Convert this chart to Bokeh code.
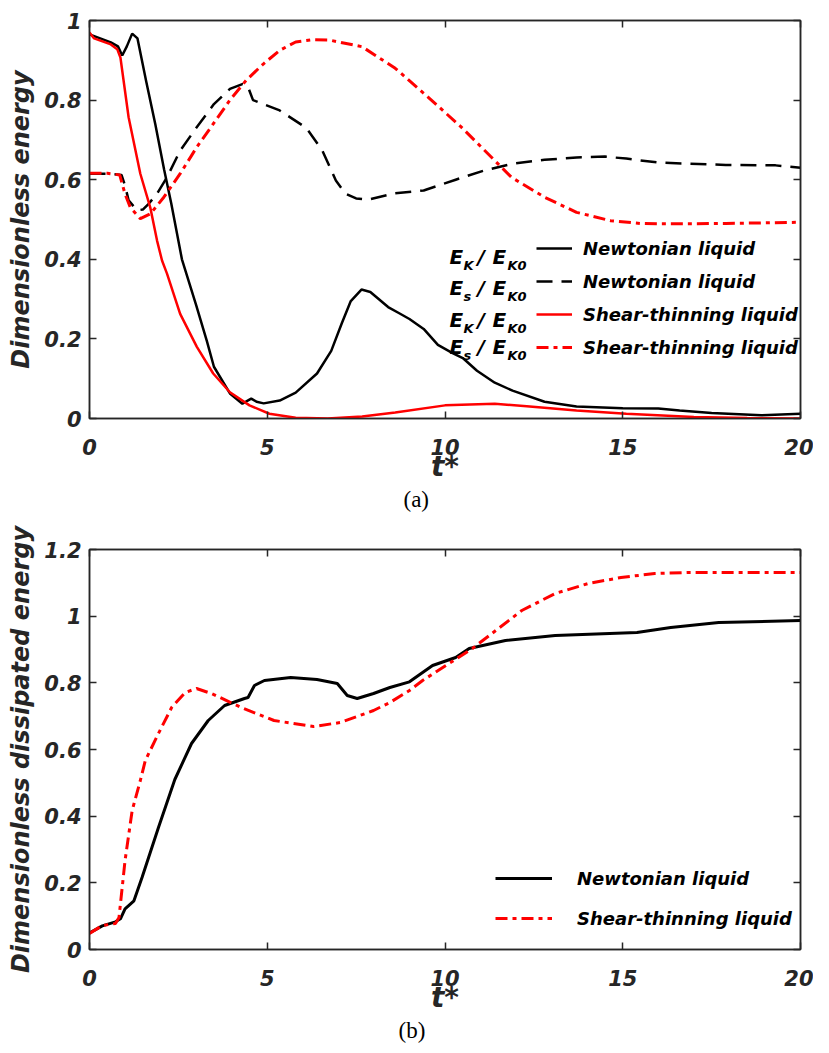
from bokeh.plotting import figure
from bokeh.models import Range1d, LinearAxis, FixedTicker, Label, Legend, LegendItem, Title
from bokeh.layouts import column
from bokeh.embed import file_html
from bokeh.resources import INLINE

# ---------------- data ----------------
# (a) E_K / E_K0, Newtonian
ta_ek_newt = [0, 0.3, 0.6, 0.8, 0.92, 1.05, 1.2, 1.35, 1.6, 1.85, 2.1, 2.3, 2.6, 3.0, 3.3, 3.5,
              3.95, 4.3, 4.45, 4.55, 4.7, 4.9, 5.35, 5.8, 6.4, 6.8, 7.1, 7.35, 7.65, 7.9, 8.4,
              8.7, 9.0, 9.4, 9.8, 10.2, 10.5, 10.9, 11.4, 11.9, 12.8, 13.7, 15.0, 16.0, 16.6,
              17.5, 18.9, 20.0]
va_ek_newt = [0.965, 0.955, 0.945, 0.935, 0.912, 0.935, 0.967, 0.955, 0.845, 0.74, 0.625, 0.54,
              0.40, 0.285, 0.195, 0.13, 0.063, 0.037, 0.045, 0.05, 0.042, 0.038, 0.045, 0.065,
              0.113, 0.17, 0.24, 0.295, 0.324, 0.318, 0.28, 0.265, 0.25, 0.225, 0.185, 0.165,
              0.152, 0.12, 0.09, 0.07, 0.042, 0.03, 0.026, 0.025, 0.02, 0.014, 0.008, 0.012]
# (a) E_s / E_K0, Newtonian
ta_es_newt = [0, 0.5, 0.9, 1.0, 1.1, 1.34, 1.5, 1.67, 1.9, 2.18, 2.55, 3.0, 3.5, 3.95, 4.3, 4.45,
              4.6, 5.35, 6.1, 6.55, 6.93, 7.2, 7.5, 7.85, 8.6, 9.4, 10.3, 11.1, 11.9, 12.8, 13.7,
              14.5, 15.1, 16.0, 17.9, 19.3, 20.0]
va_es_newt = [0.615, 0.615, 0.612, 0.585, 0.548, 0.523, 0.525, 0.54, 0.565, 0.606, 0.673, 0.73,
              0.79, 0.828, 0.84, 0.835, 0.80, 0.774, 0.73, 0.673, 0.598, 0.565, 0.553, 0.55,
              0.566, 0.573, 0.60, 0.623, 0.64, 0.65, 0.656, 0.658, 0.653, 0.643, 0.637, 0.636, 0.63]
# (a) E_K / E_K0, shear-thinning
ta_ek_st = [0, 0.13, 0.6, 0.78, 0.87, 1.1, 1.43, 1.71, 1.9, 2.04, 2.18, 2.55, 3.02, 3.48, 3.95,
            4.5, 5.06, 5.8, 6.7, 7.67, 8.6, 10.0, 11.4, 12.3, 13.7, 15.1, 17.0, 18.5, 20.0]
va_ek_st = [0.97, 0.955, 0.94, 0.928, 0.907, 0.757, 0.615, 0.53, 0.447, 0.397, 0.364, 0.263, 0.18,
            0.113, 0.066, 0.033, 0.012, 0.002, 0.0, 0.005, 0.015, 0.033, 0.037, 0.031, 0.02,
            0.012, 0.004, 0.001, 0.0]
# (a) E_s / E_K0, shear-thinning
ta_es_st = [0, 0.5, 0.85, 1.0, 1.15, 1.43, 1.71, 2.09, 2.55, 3.02, 3.48, 3.95, 4.41, 4.88, 5.35,
            5.8, 6.28, 6.74, 7.67, 8.6, 9.53, 10.46, 11.4, 11.87, 12.8, 13.7, 14.66, 15.5, 16.05,
            17.9, 20.0]
va_es_st = [0.616, 0.616, 0.612, 0.564, 0.53, 0.502, 0.514, 0.556, 0.615, 0.682, 0.74, 0.80, 0.85,
            0.89, 0.925, 0.946, 0.952, 0.951, 0.934, 0.88, 0.807, 0.732, 0.648, 0.606, 0.556,
            0.518, 0.497, 0.49, 0.489, 0.49, 0.493]
# (b) dissipated energy, Newtonian
tb_newt = [0, 0.36, 0.73, 0.87, 1.0, 1.25, 1.48, 1.94, 2.4, 2.87, 3.34, 3.8, 4.36, 4.46, 4.64,
           4.92, 5.66, 6.4, 6.97, 7.25, 7.53, 7.99, 8.45, 9.0, 9.65, 10.3, 10.68, 11.7, 13.1,
           15.4, 16.35, 17.7, 20.0]
vb_newt = [0.05, 0.071, 0.083, 0.092, 0.122, 0.146, 0.217, 0.366, 0.51, 0.618, 0.687, 0.732,
           0.753, 0.756, 0.792, 0.807, 0.816, 0.81, 0.798, 0.762, 0.753, 0.768, 0.786, 0.803,
           0.852, 0.876, 0.903, 0.927, 0.942, 0.951, 0.966, 0.981, 0.987]
# (b) dissipated energy, shear-thinning
tb_st = [0, 0.36, 0.73, 0.83, 1.0, 1.2, 1.43, 1.57, 1.94, 2.31, 2.69, 3.01, 3.43, 4.27, 5.19,
         6.3, 7.06, 7.99, 8.45, 9.0, 9.37, 10.77, 12.16, 13.1, 14.03, 14.95, 15.9, 16.8, 20.0]
vb_st = [0.048, 0.072, 0.078, 0.096, 0.267, 0.417, 0.507, 0.567, 0.648, 0.726, 0.771, 0.783,
         0.768, 0.726, 0.687, 0.669, 0.681, 0.717, 0.741, 0.777, 0.807, 0.903, 1.017, 1.068,
         1.098, 1.116, 1.128, 1.131, 1.131]

x_ticks = [0, 5, 10, 15, 20]
x_tick_labels = ["0", "5", "10", "15", "20"]
ya_ticks = [0, 0.2, 0.4, 0.6, 0.8, 1.0]
ya_tick_labels = ["0", "0.2", "0.4", "0.6", "0.8", "1"]
yb_ticks = [0, 0.2, 0.4, 0.6, 0.8, 1.0, 1.2]
yb_tick_labels = ["0", "0.2", "0.4", "0.6", "0.8", "1", "1.2"]

legend_a_liquids = ["Newtonian liquid", "Newtonian liquid", "Shear-thinning liquid", "Shear-thinning liquid"]
legend_a_num_sub = ["K", "s", "K", "s"]
legend_b_liquids = ["Newtonian liquid", "Shear-thinning liquid"]
ylabel_a = "Dimensionless energy"
ylabel_b = "Dimensionless dissipated energy"
xlabel = "t*"

# ---------------- style ----------------
FONT = "DejaVu Sans"
AX = "#262626"
RED = "#ff0000"
DASH = "16 9"
DASHDOT = "12 5 4 5"


def axis_style(ax, ticks, labels, show, standoff):
    ax.ticker = FixedTicker(ticks=ticks)
    if show:
        ax.major_label_overrides = {k: v for k, v in zip(ticks, labels)}
    else:
        ax.major_label_overrides = {k: "" for k in ticks}
    ax.major_tick_in = 7
    ax.major_tick_out = 0
    ax.minor_tick_in = 0
    ax.minor_tick_out = 0
    ax.major_tick_line_color = AX
    ax.major_tick_line_width = 1.5
    ax.axis_line_color = AX
    ax.axis_line_width = 1.5
    ax.major_label_text_font = FONT
    ax.major_label_text_font_style = "bold italic"
    ax.major_label_text_font_size = "21px"
    ax.major_label_text_color = AX
    ax.major_label_standoff = standoff
    ax.axis_label_text_font = FONT
    ax.axis_label_text_font_style = "bold italic"
    ax.axis_label_text_color = AX


def make_fig(h, ymax, yt, ytl, mb, ylabel, caption, cap_offset):
    p = figure(width=813, height=h, x_range=Range1d(0, 20), y_range=Range1d(0, ymax),
               output_backend="svg", toolbar_location=None,
               min_border_left=mb[0], min_border_right=mb[1],
               min_border_top=mb[2], min_border_bottom=mb[3])
    p.grid.grid_line_color = None
    p.outline_line_color = AX
    p.outline_line_width = 1.5
    p.background_fill_color = "white"
    p.border_fill_color = "white"
    xa = p.xaxis[0]
    axis_style(xa, x_ticks, x_tick_labels, True, 20)
    xa.axis_label = xlabel
    xa.axis_label_text_font_size = "28px"
    xa.axis_label_standoff = -8
    ya = p.yaxis[0]
    axis_style(ya, yt, ytl, True, 8)
    ya.axis_label = ylabel
    ya.axis_label_text_font_size = "24px"
    ya.axis_label_standoff = 6
    top = LinearAxis()
    axis_style(top, x_ticks, x_tick_labels, False, 0)
    p.add_layout(top, "above")
    right = LinearAxis()
    axis_style(right, yt, ytl, False, 0)
    p.add_layout(right, "right")
    p.add_layout(Title(text=caption, align="left", offset=cap_offset, standoff=-2,
                       text_font="Liberation Serif", text_font_style="normal",
                       text_font_size="23px", text_color="black"), "below")
    return p


def lab(p, x, y, text, size):
    p.add_layout(Label(x=x, y=y, x_units="screen", y_units="screen", text=text,
                       text_font=FONT, text_font_style="bold italic", text_font_size=f"{size}px",
                       text_color="black", text_align="left", text_baseline="alphabetic"))


# ---------------- panel (a) ----------------
pa = make_fig(516, 1.0, ya_ticks, ya_tick_labels, (84, 13, 20, 98), ylabel_a, "(a)", 314)
ra1 = pa.line(ta_ek_newt, va_ek_newt, line_color="black", line_width=2.5)
ra2 = pa.line(ta_es_newt, va_es_newt, line_color="black", line_width=2.5, line_dash=DASH)
ra3 = pa.line(ta_ek_st, va_ek_st, line_color=RED, line_width=2.5)
ra4 = pa.line(ta_es_st, va_es_st, line_color=RED, line_width=3, line_dash=DASHDOT)

leg_a = Legend(items=[LegendItem(label=l, renderers=[r]) for l, r in
                      zip(legend_a_liquids, [ra1, ra2, ra3, ra4])],
               location=(447, 60), padding=0, margin=0, spacing=11,
               glyph_width=36, glyph_height=22, label_height=22, label_standoff=11,
               label_text_font=FONT, label_text_font_style="bold italic",
               label_text_font_size="18px", label_text_color="black",
               border_line_color=None, background_fill_alpha=0)
pa.add_layout(leg_a)

row_base = [162, 131, 99, 72]
for sub, yb in zip(legend_a_num_sub, row_base):
    lab(pa, 360, yb, "E", 20)
    lab(pa, 374, yb - 9, sub, 13)
    lab(pa, 388, yb, "/", 20)
    lab(pa, 403, yb, "E", 20)
    lab(pa, 418, yb - 9, "K0", 13)

# ---------------- panel (b) ----------------
pb = make_fig(529, 1.2, yb_ticks, yb_tick_labels, (89, 7, 33, 96), ylabel_b, "(b)", 309)
rb1 = pb.line(tb_newt, vb_newt, line_color="black", line_width=3)
rb2 = pb.line(tb_st, vb_st, line_color=RED, line_width=3, line_dash=DASHDOT)

leg_b = Legend(items=[LegendItem(label=l, renderers=[r]) for l, r in
                      zip(legend_b_liquids, [rb1, rb2])],
               location=(406, 20), padding=0, margin=0, spacing=18,
               glyph_width=57, glyph_height=22, label_height=22, label_standoff=25,
               label_text_font=FONT, label_text_font_style="bold italic",
               label_text_font_size="18px", label_text_color="black",
               border_line_color=None, background_fill_alpha=0)
pb.add_layout(leg_b)

layout = column(pa, pb)
open("out.html", "w").write(file_html(layout, INLINE))
